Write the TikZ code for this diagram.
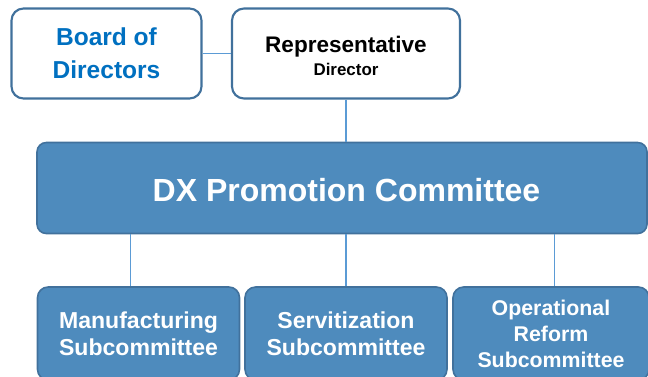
\documentclass[tikz,border=0pt]{standalone}
\usepackage{fontspec}
\setmainfont{Liberation Sans}
\definecolor{boxfill}{RGB}{78,139,189}
\definecolor{boxedge}{RGB}{65,113,156}
\definecolor{linkc}{RGB}{91,155,213}
\definecolor{boardtxt}{RGB}{0,112,192}
\tikzset{
  topbox/.style={draw=boxedge, line width=1.6pt, fill=white, rounded corners=9pt, inner sep=0pt, align=center, font=\bfseries},
  fillbox/.style={draw=boxedge, line width=1.2pt, fill=boxfill, rounded corners=8pt, inner sep=0pt, align=center, text=white, font=\bfseries},
  link/.style={draw=linkc, line width=0.8pt}
}
\begin{document}
\begin{tikzpicture}[x=0.75pt,y=-0.75pt]
\useasboundingbox (0,0) rectangle (648,376);
\clip (0,0) rectangle (648,376);
\node[topbox, minimum width=190*0.75pt, minimum height=90*0.75pt, text=boardtxt,
      font=\bfseries\fontsize{18.4}{24.5}\selectfont] (board) at (106.5,53.5) {Board of\\Directors};
\node[topbox, minimum width=228*0.75pt, minimum height=90*0.75pt] (rep) at (346,53.5) {};
\node[inner sep=0pt, align=center, text=black,
      font=\bfseries\fontsize{12.7}{17.5}\selectfont] (reptext) at (346,56)
  {{\fontsize{16.9}{17.5}\selectfont Representative}\\Director};
\node[fillbox, minimum width=610*0.75pt, minimum height=91*0.75pt, rounded corners=7pt] (dx) at (342,188) {};
\node[text=white, inner sep=0pt, font=\bfseries\fontsize{24}{28}\selectfont] (dxtext) at (346.5,190) {DX Promotion Committee};
\node[fillbox, minimum width=202*0.75pt, minimum height=93*0.75pt,
      font=\bfseries\fontsize{17.3}{20.5}\selectfont] (mfg) at (138.5,333.5) {Manufacturing\\Subcommittee};
\node[fillbox, minimum width=202*0.75pt, minimum height=93*0.75pt,
      font=\bfseries\fontsize{17.3}{20.5}\selectfont] (serv) at (346,333.5) {Servitization\\Subcommittee};
\node[fillbox, minimum width=196*0.75pt, minimum height=93*0.75pt,
      font=\bfseries\fontsize{16}{19.5}\selectfont] (ops) at (551,333.5) {Operational\\Reform\\Subcommittee};
\path[link] (board.east) -- (rep.west);
\path[link] (rep.south) -- (rep.south |- dx.north);
\coordinate (m1) at (130.5,0);
\coordinate (m3) at (554.5,0);
\path[link] (m1 |- dx.south) -- (m1 |- mfg.north);
\path[link] (serv.north |- dx.south) -- (serv.north);
\path[link] (m3 |- dx.south) -- (m3 |- ops.north);
\end{tikzpicture}
\end{document}
